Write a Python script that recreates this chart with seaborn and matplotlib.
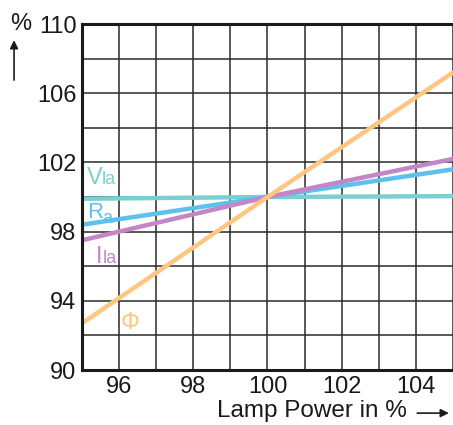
import pandas as pd
import numpy as np
import seaborn as sns
import matplotlib.pyplot as plt

# Values
lamp_power = [95, 100, 105]
v_la = [99.9, 100.0, 100.05]
r_a = [98.4, 100.0, 101.6]
i_la = [97.5, 100.0, 102.2]
phi = [92.7, 100.0, 107.2]

series_names = ['Vla', 'Ra', 'Ila', 'Phi']
colours = {'Vla': '#7ccfd0', 'Ra': '#5cc1ec', 'Ila': '#c386c6', 'Phi': '#fec681'}

x_ticks = [96, 98, 100, 102, 104]
y_ticks = [90, 94, 98, 102, 106, 110]

df = pd.DataFrame({'power': lamp_power * 4,
                   'value': v_la + r_a + i_la + phi,
                   'series': np.repeat(series_names, len(lamp_power))})

sns.set_style("white")
plt.rcParams['font.family'] = ['Liberation Sans', 'DejaVu Sans']

fig = plt.figure(figsize=(4.53, 4.25), dpi=100)
ax = fig.add_axes([0.181, 0.1294, 0.819, 0.8141])

# grid
for gx in range(95, 106):
    ax.axvline(gx, color='#2a2a2a', lw=1.1, zorder=0)
for gy in range(90, 111, 2):
    ax.axhline(gy, color='#2a2a2a', lw=1.1, zorder=0)

sns.lineplot(data=df, x='power', y='value', hue='series', palette=colours,
             hue_order=['Vla', 'Ra', 'Ila', 'Phi'], lw=3.2, legend=False, ax=ax)

ax.set_xlim(95, 105)
ax.set_ylim(90, 110)
ax.set_xticks(x_ticks)
ax.set_yticks(y_ticks)
ax.tick_params(length=0, labelsize=17, colors='#1a1a1a', pad=4)
ax.set_xlabel('')
ax.set_ylabel('')
for s in ['left', 'top', 'bottom']:
    ax.spines[s].set_linewidth(2.2)
    ax.spines[s].set_color('#1a1a1a')
ax.spines['right'].set_visible(False)

# series labels
ax.text(95.13, 100.75, 'V', color=colours['Vla'], fontsize=17)
ax.text(95.52, 100.75, 'la', color=colours['Vla'], fontsize=13)
ax.text(95.13, 98.78, 'R', color=colours['Ra'], fontsize=16)
ax.text(95.55, 98.52, 'a', color=colours['Ra'], fontsize=13)
ax.text(95.38, 96.18, 'I', color=colours['Ila'], fontsize=17)
ax.text(95.56, 96.18, 'la', color=colours['Ila'], fontsize=13)
ax.text(96.03, 92.1, 'Φ', color=colours['Phi'], fontsize=17, va='bottom')

# axis captions with arrows
fig.text(0.022, 0.93, '%', fontsize=17, color='#1a1a1a')
ax.annotate('', xy=(0.031, 0.912), xytext=(0.031, 0.805), xycoords='figure fraction',
            arrowprops=dict(arrowstyle='-|>', color='#1a1a1a', lw=1.2, mutation_scale=12))
fig.text(0.479, 0.02, 'Lamp Power in %', fontsize=17.5, color='#1a1a1a')
ax.annotate('', xy=(0.997, 0.028), xytext=(0.915, 0.028), xycoords='figure fraction',
            arrowprops=dict(arrowstyle='-|>', color='#1a1a1a', lw=1.2, mutation_scale=12))

fig.savefig('out.png', dpi=100)
